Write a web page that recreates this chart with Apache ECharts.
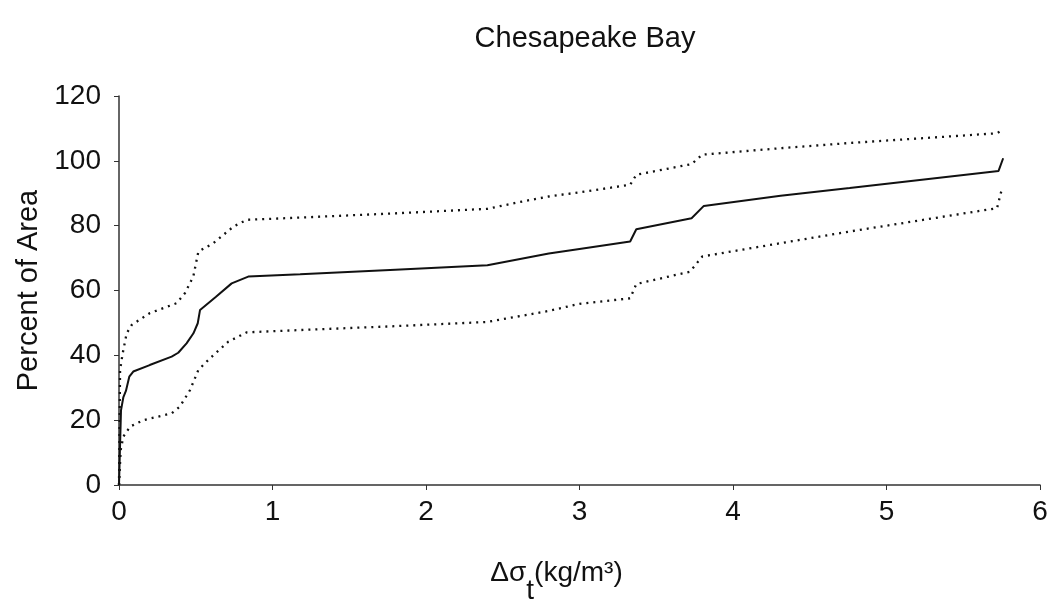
<!DOCTYPE html>
<html lang="en">
<head>
    <meta http-equiv="Content-Type" content="text/html; charset=UTF-8">
    <title>Chesapeake Bay</title>
    <script type="text/javascript" src="https://cdn.jsdelivr.net/npm/echarts@6/dist/echarts.min.js"></script>
</head>
<body style="margin:0;width:1055px;height:607px;background:#fff">
<div id="main" style="width:1055px;height:607px"></div>
<script type="text/javascript">
    // middle curve (solid)
    var midX = [0, 0.013, 0.028, 0.045, 0.067, 0.093, 0.2, 0.343, 0.386, 0.44, 0.485, 0.513, 0.528, 0.63, 0.734, 0.842, 1.18, 1.8, 2.4, 2.8, 3.0, 3.33, 3.37, 3.73, 3.81, 4.31, 4.76, 5.73, 5.76];
    var midY = [0, 23, 27, 29, 33.4, 35, 37, 39.6, 40.8, 43.7, 46.8, 49.9, 54, 58, 62.2, 64.3, 65, 66.4, 67.8, 71.4, 72.8, 75.1, 78.9, 82.3, 86.1, 89.2, 91.6, 96.9, 100.8];
    // upper bound (dotted)
    var upX = [0, 0.007, 0.024, 0.05, 0.083, 0.2, 0.376, 0.43, 0.484, 0.517, 0.615, 0.745, 0.832, 1.18, 1.8, 2.4, 2.6, 2.8, 3.0, 3.33, 3.37, 3.73, 3.80, 4.31, 4.76, 5.72, 5.76];
    var upY = [0, 35.5, 40.6, 46.8, 49.4, 53, 56.1, 59.2, 64.3, 72, 74.6, 79.7, 81.8, 82.5, 83.8, 85.2, 87.2, 89, 90.3, 92.6, 95.7, 99, 101.9, 103.9, 105.5, 108.5, 109.6];
    // lower bound (dotted)
    var lowX = [0, 0.011, 0.028, 0.072, 0.158, 0.343, 0.397, 0.463, 0.517, 0.593, 0.712, 0.832, 1.18, 1.8, 2.4, 2.8, 3.0, 3.33, 3.37, 3.72, 3.80, 4.31, 4.76, 5.72, 5.75];
    var lowY = [0, 10.8, 14.9, 18, 20, 22.1, 24.2, 29.3, 35.5, 39.1, 44.2, 47.1, 47.8, 49, 50.3, 53.7, 55.9, 57.6, 62, 65.8, 70.5, 74.6, 78.2, 85.4, 91];

    function pairs(xs, ys) {
        return xs.map(function (x, i) { return [x, ys[i]]; });
    }

    var font = 'Liberation Sans, Arial, sans-serif';
    var myChart = echarts.init(document.getElementById('main'));

    myChart.setOption({
        animation: false,
        backgroundColor: '#fff',
        title: {
            text: 'Chesapeake Bay',
            left: 580,
            textAlign: 'center',
            top: 19,
            textStyle: {color: '#111', fontSize: 29, fontWeight: 'normal', fontFamily: font}
        },
        grid: {left: 119, right: 15, top: 96, bottom: 122, containLabel: false, outerBoundsMode: 'none'},
        xAxis: {
            type: 'value',
            min: 0,
            max: 6,
            interval: 1,
            splitLine: {show: false},
            axisLine: {lineStyle: {color: '#333', width: 1.5}},
            axisTick: {length: 5, lineStyle: {color: '#333'}},
            axisLabel: {color: '#111', fontSize: 28, fontFamily: font, margin: 13},
            name: '{n|Δσ}{s|t}{n|(kg/m³)}',
            nameLocation: 'middle',
            nameGap: 56,
            nameTextStyle: {
                padding: [0, 46, 0, 0],
                rich: {
                    n: {fontSize: 28, color: '#111', fontFamily: font},
                    s: {fontSize: 28, color: '#111', fontFamily: font, padding: [36, 0, 0, 0]}
                }
            }
        },
        yAxis: {
            type: 'value',
            min: 0,
            max: 120,
            interval: 20,
            splitLine: {show: false},
            axisLine: {show: true, lineStyle: {color: '#333', width: 1.5}},
            axisTick: {show: true, length: 5, lineStyle: {color: '#333'}},
            axisLabel: {color: '#111', fontSize: 28, fontFamily: font, margin: 18},
            name: 'Percent of Area',
            nameLocation: 'middle',
            nameGap: 76,
            nameTextStyle: {color: '#111', fontSize: 29, fontFamily: font}
        },
        series: [{
            name: 'mean',
            type: 'line',
            data: pairs(midX, midY),
            showSymbol: false,
            lineStyle: {color: '#111', width: 2}
        }, {
            name: 'upper',
            type: 'line',
            data: pairs(upX, upY),
            showSymbol: false,
            lineStyle: {color: '#111', width: 2.3, type: [2, 5]}
        }, {
            name: 'lower',
            type: 'line',
            data: pairs(lowX, lowY),
            showSymbol: false,
            lineStyle: {color: '#111', width: 2.3, type: [2, 5]}
        }]
    });
</script>
</body>
</html>
